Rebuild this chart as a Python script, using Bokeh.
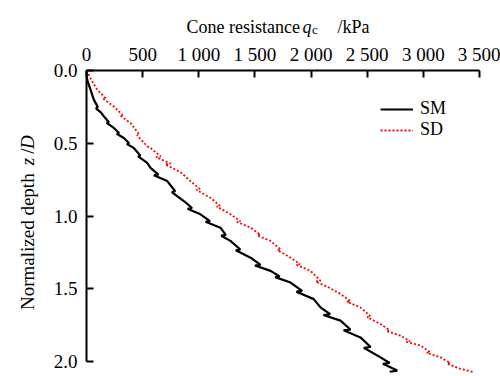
import math
from bokeh.plotting import figure
from bokeh.models import Range1d, FixedTicker
from bokeh.layouts import column, row
from bokeh.core.properties import value
from bokeh.embed import file_html
from bokeh.resources import INLINE

# ---------------- data ----------------
sm_qc = [0, 0, 10, 35, 65, 100, 85, 130, 154, 200, 180, 243, 290, 270, 332, 380, 360, 421,
         480, 460, 541, 570, 640, 600, 719, 790, 760, 867, 940, 900, 1015, 1100, 1060, 1193,
         1240, 1200, 1282, 1370, 1330, 1461, 1550, 1500, 1639, 1720, 1680, 1817, 1920, 1870,
         2024, 2084, 2170, 2110, 2262, 2350, 2290, 2440, 2530, 2470, 2618, 2700, 2640, 2767, 2700]
sm_z = [0, 0.04, 0.075, 0.13, 0.20, 0.25, 0.26, 0.29, 0.315, 0.355, 0.36, 0.395, 0.43, 0.435,
        0.464, 0.50, 0.505, 0.532, 0.585, 0.59, 0.635, 0.669, 0.715, 0.72, 0.760, 0.83, 0.835,
        0.897, 0.945, 0.95, 0.988, 1.035, 1.04, 1.080, 1.13, 1.135, 1.171, 1.23, 1.235, 1.286,
        1.335, 1.34, 1.377, 1.415, 1.42, 1.457, 1.515, 1.52, 1.571, 1.628, 1.675, 1.68, 1.719,
        1.78, 1.785, 1.834, 1.90, 1.905, 1.971, 2.01, 2.015, 2.062, 2.07]

sd_qc = [0, 40, 95, 170, 150, 243, 320, 300, 392, 470, 450, 541, 570, 660, 620, 748, 700, 840,
         926, 1010, 980, 1104, 1190, 1160, 1282, 1370, 1340, 1461, 1550, 1520, 1639, 1730, 1700,
         1817, 1900, 1870, 1995, 2084, 2040, 2158, 2262, 2350, 2320, 2440, 2530, 2500, 2618,
         2700, 2670, 2796, 2880, 2850, 2975, 3060, 3030, 3153, 3240, 3210, 3331, 3449]
sd_z = [0, 0.06, 0.132, 0.19, 0.195, 0.247, 0.305, 0.31, 0.361, 0.44, 0.445, 0.521, 0.532,
        0.59, 0.595, 0.64, 0.645, 0.70, 0.760, 0.815, 0.82, 0.875, 0.93, 0.935, 0.988, 1.035,
        1.04, 1.080, 1.13, 1.135, 1.171, 1.23, 1.235, 1.286, 1.33, 1.335, 1.377, 1.445, 1.45,
        1.491, 1.536, 1.585, 1.59, 1.628, 1.69, 1.695, 1.742, 1.785, 1.79, 1.822, 1.86, 1.865,
        1.890, 1.935, 1.94, 1.971, 2.01, 2.015, 2.050, 2.073]

x_ticks = [0, 500, 1000, 1500, 2000, 2500, 3000, 3500]
x_tick_labels = ["0", "500", "1 000", "1 500", "2 000", "2 500", "3 000", "3 500"]
y_ticks = [0.0, 0.5, 1.0, 1.5, 2.0]
y_tick_labels = ["0.0", "0.5", "1.0", "1.5", "2.0"]

series_names = ["SM", "SD"]

# ---------------- layout ----------------
FONT = "Liberation Serif"
TOP_H = 40          # height of the x-title strip
LEFT_W = 40         # width of the y-title strip
TOTAL_W, TOTAL_H = 500, 376
MW, MH = TOTAL_W - LEFT_W, TOTAL_H - TOP_H
L, T, R, B = 46, 29, 21, 0
FW, FH = MW - L - R, MH - T - B
X_MAX = 3500
PX_PER_Z = 146.0
Y_MAX = FH / PX_PER_Z


def strip(w, h):
    f = figure(width=w, height=h, x_range=Range1d(0, w), y_range=Range1d(0, h),
               x_axis_location=None, y_axis_location=None, output_backend="svg",
               toolbar_location=None, min_border=0)
    f.outline_line_color = None
    f.grid.visible = False
    return f


# --- main plot ---
p = figure(width=MW, height=MH, x_range=Range1d(0, X_MAX), y_range=Range1d(Y_MAX, 0),
           x_axis_location="above", output_backend="svg", toolbar_location=None,
           min_border_left=L, min_border_top=T, min_border_right=R, min_border_bottom=B)
p.outline_line_color = None
p.grid.visible = False

for ax in (p.xaxis[0], p.yaxis[0]):
    ax.axis_line_width = 2
    ax.axis_line_color = "black"
    ax.major_tick_line_width = 2
    ax.major_tick_line_color = "black"
    ax.major_tick_in = 7
    ax.major_tick_out = 0
    ax.minor_tick_line_color = None
    ax.major_label_text_font = FONT
    ax.major_label_text_font_size = "19px"
    ax.major_label_text_color = "black"

xa = p.xaxis[0]
xa.ticker = FixedTicker(ticks=x_ticks)
xa.major_label_overrides = {t: s for t, s in zip(x_ticks, x_tick_labels)}
xa.bounds = (0, 3500)
xa.major_label_standoff = 6

ya = p.yaxis[0]
ya.ticker = FixedTicker(ticks=y_ticks)
ya.major_label_overrides = {t: s for t, s in zip(y_ticks, y_tick_labels)}
ya.bounds = (0, 2.0)
ya.major_label_standoff = 9

p.line(sm_qc, sm_z, line_color="black", line_width=2.2, legend_label=series_names[0])
p.line(sd_qc, sd_z, line_color="#ff0000", line_width=1.8, line_dash="2 2",
       legend_label=series_names[1])

lg = p.legend[0]
lg.location = (294, 236)
lg.border_line_color = None
lg.background_fill_alpha = 0
lg.padding = 0
lg.margin = 0
lg.spacing = 0
lg.glyph_width = 33
lg.glyph_height = 18
lg.label_height = 18
lg.label_standoff = 7
lg.label_text_font = FONT
lg.label_text_font_size = "18px"
lg.label_text_color = "black"

# --- x title strip: Cone resistance q_c /kPa ---
tf = strip(TOTAL_W, TOP_H)


def ttext(f, x, y, s, size, style="normal", angle=0.0):
    f.text(x=[x], y=[y], text=[s], text_font=value(FONT), text_font_size=value(size),
           text_font_style=value(style), text_color="black", text_align="left",
           text_baseline="alphabetic", angle=angle)


ttext(tf, 186, TOP_H - 26, "Cone resistance", "18px")
ttext(tf, 302, TOP_H - 26, "q", "18px", "italic")
ttext(tf, 311.5, TOP_H - 29, "c", "13px")
ttext(tf, 337, TOP_H - 26, "/kPa", "18px")

# --- y title strip: Normalized depth z /D ---
yf = strip(LEFT_W, MH)
A = math.pi / 2


def ypos(page_y):
    return TOTAL_H - page_y


ttext(yf, 27, ypos(303), "Normalized depth", "19px", angle=A)
ttext(yf, 27, ypos(144), "z", "19px", "italic", angle=A)
ttext(yf, 27, ypos(131.5), "/", "19px", angle=A)
ttext(yf, 27, ypos(126.2), "D", "19px", "italic", angle=A)

layout = column(tf, row(yf, p, spacing=0), spacing=0)

open("out.html", "w").write(file_html(layout, INLINE))
